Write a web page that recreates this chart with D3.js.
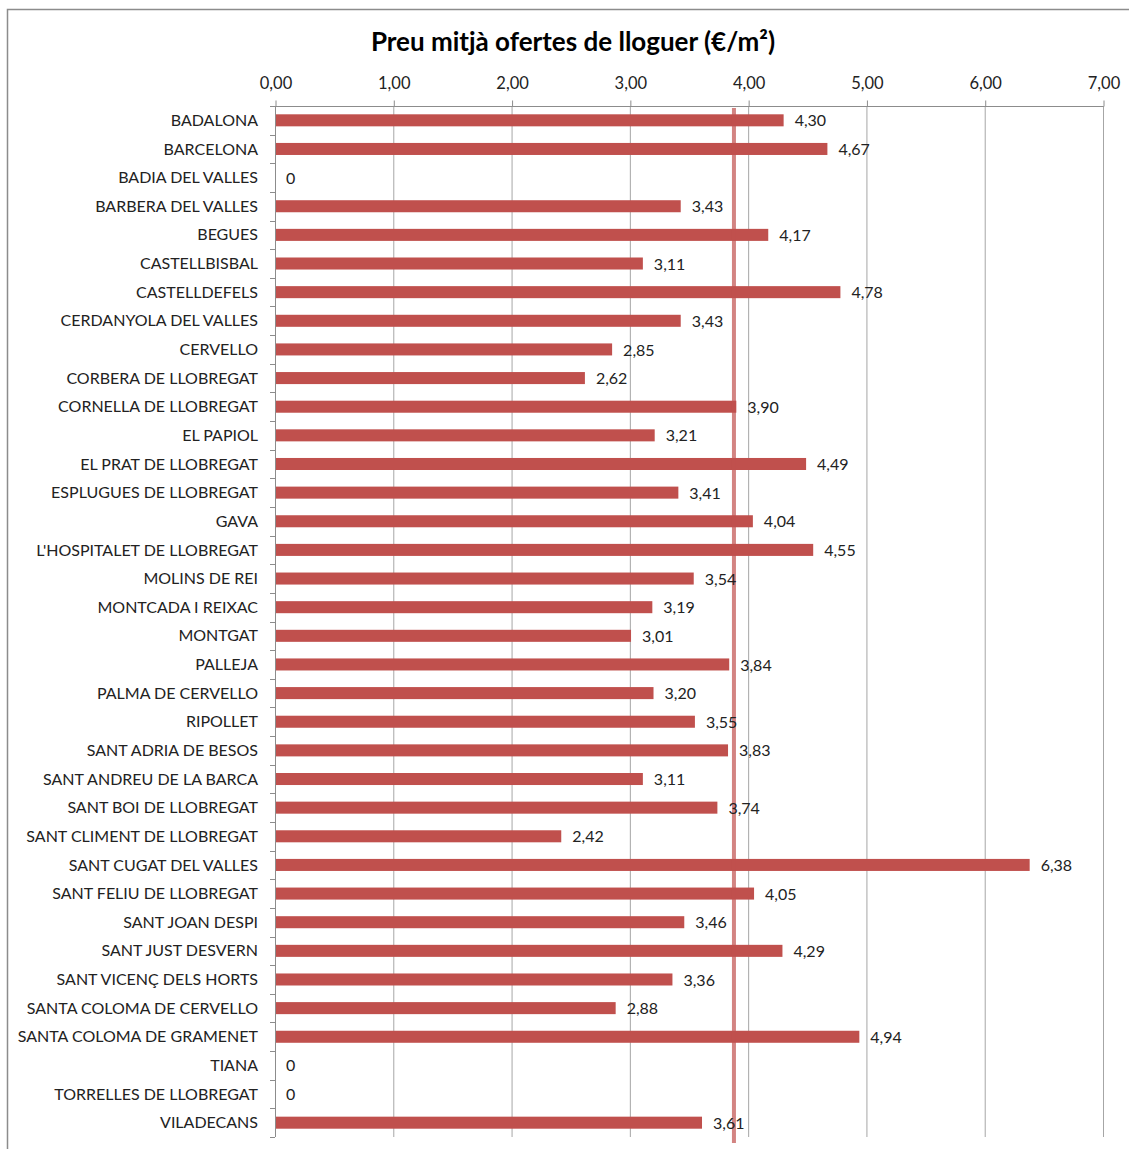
<!DOCTYPE html>
<html>
<head>
<meta charset="utf-8">
<script src="https://cdn.jsdelivr.net/npm/d3@7"></script>
<style>
  html, body { margin: 0; padding: 0; background: #fff; }
  svg { display: block; font-family: Lato, "Open Sans", sans-serif; }
</style>
</head>
<body>
<svg id="chart" width="1129" height="1149"></svg>
<script>
// Municipalities, top to bottom
const municipis = [
  "BADALONA", "BARCELONA", "BADIA DEL VALLES", "BARBERA DEL VALLES", "BEGUES",
  "CASTELLBISBAL", "CASTELLDEFELS", "CERDANYOLA DEL VALLES", "CERVELLO",
  "CORBERA DE LLOBREGAT", "CORNELLA DE LLOBREGAT", "EL PAPIOL",
  "EL PRAT DE LLOBREGAT", "ESPLUGUES DE LLOBREGAT", "GAVA",
  "L'HOSPITALET DE LLOBREGAT", "MOLINS DE REI", "MONTCADA I REIXAC", "MONTGAT",
  "PALLEJA", "PALMA DE CERVELLO", "RIPOLLET", "SANT ADRIA DE BESOS",
  "SANT ANDREU DE LA BARCA", "SANT BOI DE LLOBREGAT", "SANT CLIMENT DE LLOBREGAT",
  "SANT CUGAT DEL VALLES", "SANT FELIU DE LLOBREGAT", "SANT JOAN DESPI",
  "SANT JUST DESVERN", "SANT VICENÇ DELS HORTS", "SANTA COLOMA DE CERVELLO",
  "SANTA COLOMA DE GRAMENET", "TIANA", "TORRELLES DE LLOBREGAT", "VILADECANS"
];

// Average offer price (€/m²)
const preus = [
  4.30, 4.67, 0, 3.43, 4.17,
  3.11, 4.78, 3.43, 2.85,
  2.62, 3.90, 3.21,
  4.49, 3.41, 4.04,
  4.55, 3.54, 3.19, 3.01,
  3.84, 3.20, 3.55, 3.83,
  3.11, 3.74, 2.42,
  6.38, 4.05, 3.46,
  4.29, 3.36, 2.88,
  4.94, 0, 0, 3.61
];

// Reference average for the whole area
const mitjana = 3.88;

// Axis ticks
const ticks = [0, 1, 2, 3, 4, 5, 6, 7];

const titol = "Preu mitjà ofertes de lloguer (€/m²)";

const data = municipis.map((m, i) => ({ m, v: preus[i] }));
const svg = d3.select("#chart");

const plotLeft = 275, plotRight = 1103, plotTop = 106, plotBottom = 1137;

const x = d3.scaleLinear().domain([0, 7]).range([plotLeft, plotRight]);
const y = d3.scaleBand().domain(municipis).range([plotTop, plotBottom]).paddingInner(0.58).paddingOuter(0.29);

const fmt = v => v === 0 ? "0" : d3.format(".2f")(v).replace(".", ",");

// Outer frame (top and left edges)
svg.append("path")
  .attr("d", `M7.5,${1149} V9.5 H1129`)
  .attr("fill", "none")
  .attr("stroke", "#8c8c8c")
  .attr("stroke-width", 1.5);

// Title
svg.append("text")
  .attr("x", 573).attr("y", 51)
  .attr("text-anchor", "middle")
  .attr("font-size", 26)
  .attr("font-weight", "bold")
  .attr("fill", "#000")
  .text(titol);

// Vertical gridlines
svg.append("g").selectAll("line").data(ticks.slice(1)).join("line")
  .attr("x1", d => x(d) + 0.5).attr("x2", d => x(d) + 0.5)
  .attr("y1", plotTop).attr("y2", plotBottom)
  .attr("stroke", "#a6a6a6").attr("stroke-width", 1);

// Top axis
const xAxis = d3.axisTop(x).tickValues(ticks).tickSize(6).tickPadding(12)
  .tickFormat(d => d3.format(".2f")(d).replace(".", ","));
const gx = svg.append("g").attr("transform", `translate(0.5,${plotTop + 0.5})`).call(xAxis);
gx.select(".domain").attr("stroke", "#8c8c8c").attr("d", `M${plotLeft},0H${plotRight}`);
gx.selectAll(".tick line").attr("stroke", "#8c8c8c");
gx.selectAll(".tick text").attr("font-size", 16.5).attr("fill", "#222")
  .attr("font-family", "Lato, 'Open Sans', sans-serif");

// Left axis with ticks between categories
const step = y.step();
const boundaries = d3.range(municipis.length + 1).map(i => plotTop + i * step);
const gy = svg.append("g");
gy.append("line")
  .attr("x1", plotLeft + 0.5).attr("x2", plotLeft + 0.5)
  .attr("y1", plotTop).attr("y2", plotBottom)
  .attr("stroke", "#8c8c8c");
gy.selectAll("line.tk").data(boundaries).join("line").attr("class", "tk")
  .attr("x1", plotLeft - 5).attr("x2", plotLeft)
  .attr("y1", d => Math.round(d) + 0.5).attr("y2", d => Math.round(d) + 0.5)
  .attr("stroke", "#8c8c8c");

// Category labels
svg.append("g").selectAll("text").data(data).join("text")
  .attr("x", 258)
  .attr("y", d => y(d.m) + y.bandwidth() / 2)
  .attr("dy", "0.35em")
  .attr("text-anchor", "end")
  .attr("font-size", 16)
  .attr("fill", "#222")
  .text(d => d.m);

// Bars
svg.append("g").selectAll("rect").data(data).join("rect")
  .attr("x", x(0) + 1)
  .attr("y", d => y(d.m))
  .attr("width", d => Math.max(0, x(d.v) - x(0) - 1))
  .attr("height", y.bandwidth())
  .attr("fill", "#c0504d");

// Average line
svg.append("line")
  .attr("x1", x(mitjana)).attr("x2", x(mitjana))
  .attr("y1", plotTop + 2).attr("y2", plotBottom + 6)
  .attr("stroke", "#c0504d")
  .attr("stroke-opacity", 0.7)
  .attr("stroke-width", 4);

// Value labels
svg.append("g").selectAll("text").data(data).join("text")
  .attr("x", d => x(d.v) + 11)
  .attr("y", d => y(d.m) + y.bandwidth() / 2)
  .attr("dy", "0.38em")
  .attr("font-size", 16)
  .attr("fill", "#222")
  .text(d => fmt(d.v));
</script>
</body>
</html>
